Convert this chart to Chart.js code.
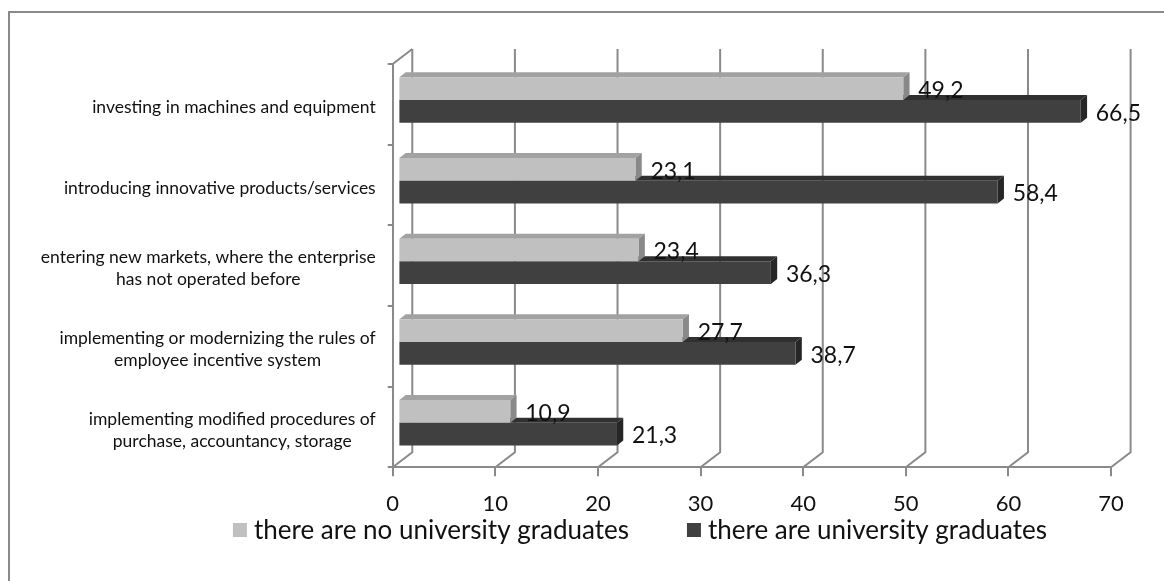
<!DOCTYPE html>
<html>
<head>
<meta charset="utf-8">
<script src="https://cdn.jsdelivr.net/npm/chart.js@4.4.1/dist/chart.umd.min.js"></script>
<style>
html,body{margin:0;padding:0;background:#fff;}
canvas{display:block;}
</style>
</head>
<body>
<canvas id="chart" width="1164" height="581"></canvas>
<script>
const categories = [
  ["investing in machines and equipment"],
  ["introducing innovative products/services"],
  ["entering new markets, where the enterprise", "has not operated before"],
  ["implementing or modernizing the rules of", "employee incentive system"],
  ["implementing modified procedures of", "purchase, accountancy, storage"]
];
const noGraduates = [49.2, 23.1, 23.4, 27.7, 10.9];
const withGraduates = [66.5, 58.4, 36.3, 38.7, 21.3];
const seriesNames = ["there are no university graduates", "there are university graduates"];
const xTicks = [0, 10, 20, 30, 40, 50, 60, 70];

const FONT = "Lato";
const GRID = "#8a8a8a";
const WALL = {x: 19.6, y: 15};      // back wall offset
const SHIFT = {x: 5.7, y: -4.3};    // bars sit in the middle of the depth
const FACE = {x: 6.3, y: 5};        // bar depth
const palette = [
  {front: "#c0c0c0", top: "#a2a2a2", side: "#898989"},
  {front: "#404040", top: "#303030", side: "#262626"}
];
const comma = v => v.toFixed(1).replace(".", ",");

const depth3d = {
  id: "depth3d",
  beforeDraw(chart) {
    const {ctx, chartArea: a, scales: {x}} = chart;
    ctx.save();
    ctx.fillStyle = "#fff";
    ctx.fillRect(0, 0, chart.width, chart.height);
    ctx.strokeStyle = GRID;
    ctx.lineWidth = 2;
    ctx.strokeRect(9, 12, 1170, 600);
    ctx.beginPath();
    xTicks.forEach(v => {
      const px = x.getPixelForValue(v);
      ctx.moveTo(px, a.bottom);
      ctx.lineTo(px + WALL.x, a.bottom - WALL.y);
      ctx.lineTo(px + WALL.x, a.top - WALL.y);
    });
    ctx.moveTo(a.left, a.top);
    ctx.lineTo(a.left + WALL.x, a.top - WALL.y);
    ctx.stroke();
    ctx.restore();
  },
  beforeDatasetsDraw(chart) {
    chart.ctx.save();
    chart.ctx.translate(SHIFT.x, SHIFT.y);
  },
  beforeDatasetDraw(chart, args) {
    const ctx = chart.ctx, c = palette[args.index];
    args.meta.data.forEach(el => {
      const {x, y, base, height} = el.getProps(["x", "y", "base", "height"], true);
      const top = y - height / 2, bottom = y + height / 2;
      ctx.fillStyle = c.top;
      ctx.beginPath();
      ctx.moveTo(base, top);
      ctx.lineTo(base + FACE.x, top - FACE.y);
      ctx.lineTo(x + FACE.x, top - FACE.y);
      ctx.lineTo(x, top);
      ctx.closePath();
      ctx.fill();
      ctx.fillStyle = c.side;
      ctx.beginPath();
      ctx.moveTo(x, top);
      ctx.lineTo(x + FACE.x, top - FACE.y);
      ctx.lineTo(x + FACE.x, bottom - FACE.y);
      ctx.lineTo(x, bottom);
      ctx.closePath();
      ctx.fill();
    });
  },
  afterDatasetsDraw(chart) {
    const ctx = chart.ctx;
    ctx.font = `23px ${FONT}`;
    ctx.fillStyle = "#111";
    ctx.textAlign = "left";
    ctx.textBaseline = "middle";
    chart.data.datasets.forEach((ds, i) => {
      chart.getDatasetMeta(i).data.forEach((el, j) => {
        ctx.fillText(comma(ds.data[j]), el.x + 15, el.y + 2);
      });
    });
    ctx.restore();
  },
  afterDraw(chart) {
    const {ctx, chartArea: a, scales: {y}} = chart;
    ctx.save();
    // category labels: block right-aligned, lines centred
    ctx.font = `17.5px ${FONT}`;
    ctx.fillStyle = "#111";
    ctx.textAlign = "center";
    ctx.textBaseline = "middle";
    categories.forEach((lines, i) => {
      const cy = y.getPixelForValue(i) + 3;
      const w = Math.max(...lines.map(t => ctx.measureText(t).width));
      const cx = a.left - 17 - w / 2;
      lines.forEach((t, k) => ctx.fillText(t, cx, cy + (k - (lines.length - 1) / 2) * 22));
    });
    // legend
    ctx.font = `26px ${FONT}`;
    ctx.textAlign = "left";
    const widths = seriesNames.map(t => 14 + 7 + ctx.measureText(t).width);
    let lx = 640 - (widths[0] + widths[1] + 58) / 2;
    seriesNames.forEach((t, i) => {
      ctx.fillStyle = palette[i].front;
      ctx.fillRect(lx, 523, 14, 14);
      ctx.fillStyle = "#111";
      ctx.fillText(t, lx + 21, 531);
      lx += widths[i] + 58;
    });
    ctx.restore();
  }
};

new Chart(document.getElementById("chart"), {
  type: "bar",
  data: {
    labels: categories,
    datasets: [
      {label: seriesNames[0], data: noGraduates, backgroundColor: palette[0].front},
      {label: seriesNames[1], data: withGraduates, backgroundColor: palette[1].front}
    ]
  },
  options: {
    indexAxis: "y",
    responsive: false,
    animation: false,
    devicePixelRatio: 1,
    layout: {padding: {left: 0, right: 53, top: 64, bottom: 0}},
    datasets: {bar: {categoryPercentage: 0.563, barPercentage: 1, clip: false}},
    scales: {
      x: {
        min: xTicks[0], max: xTicks[xTicks.length - 1],
        ticks: {stepSize: xTicks[1] - xTicks[0], font: {family: FONT, size: 22}, color: "#111", padding: 14},
        grid: {drawOnChartArea: false, tickLength: 9, color: GRID, lineWidth: 2},
        border: {color: GRID, width: 2},
        afterFit: s => { s.height = 581 - 467.3; }
      },
      y: {
        ticks: {display: false},
        grid: {drawOnChartArea: false, tickLength: 5, color: GRID, lineWidth: 2},
        border: {color: GRID, width: 2},
        afterFit: s => { s.width = 392.7; }
      }
    },
    plugins: {legend: {display: false}, tooltip: {enabled: false}}
  },
  plugins: [depth3d]
});
</script>
</body>
</html>
